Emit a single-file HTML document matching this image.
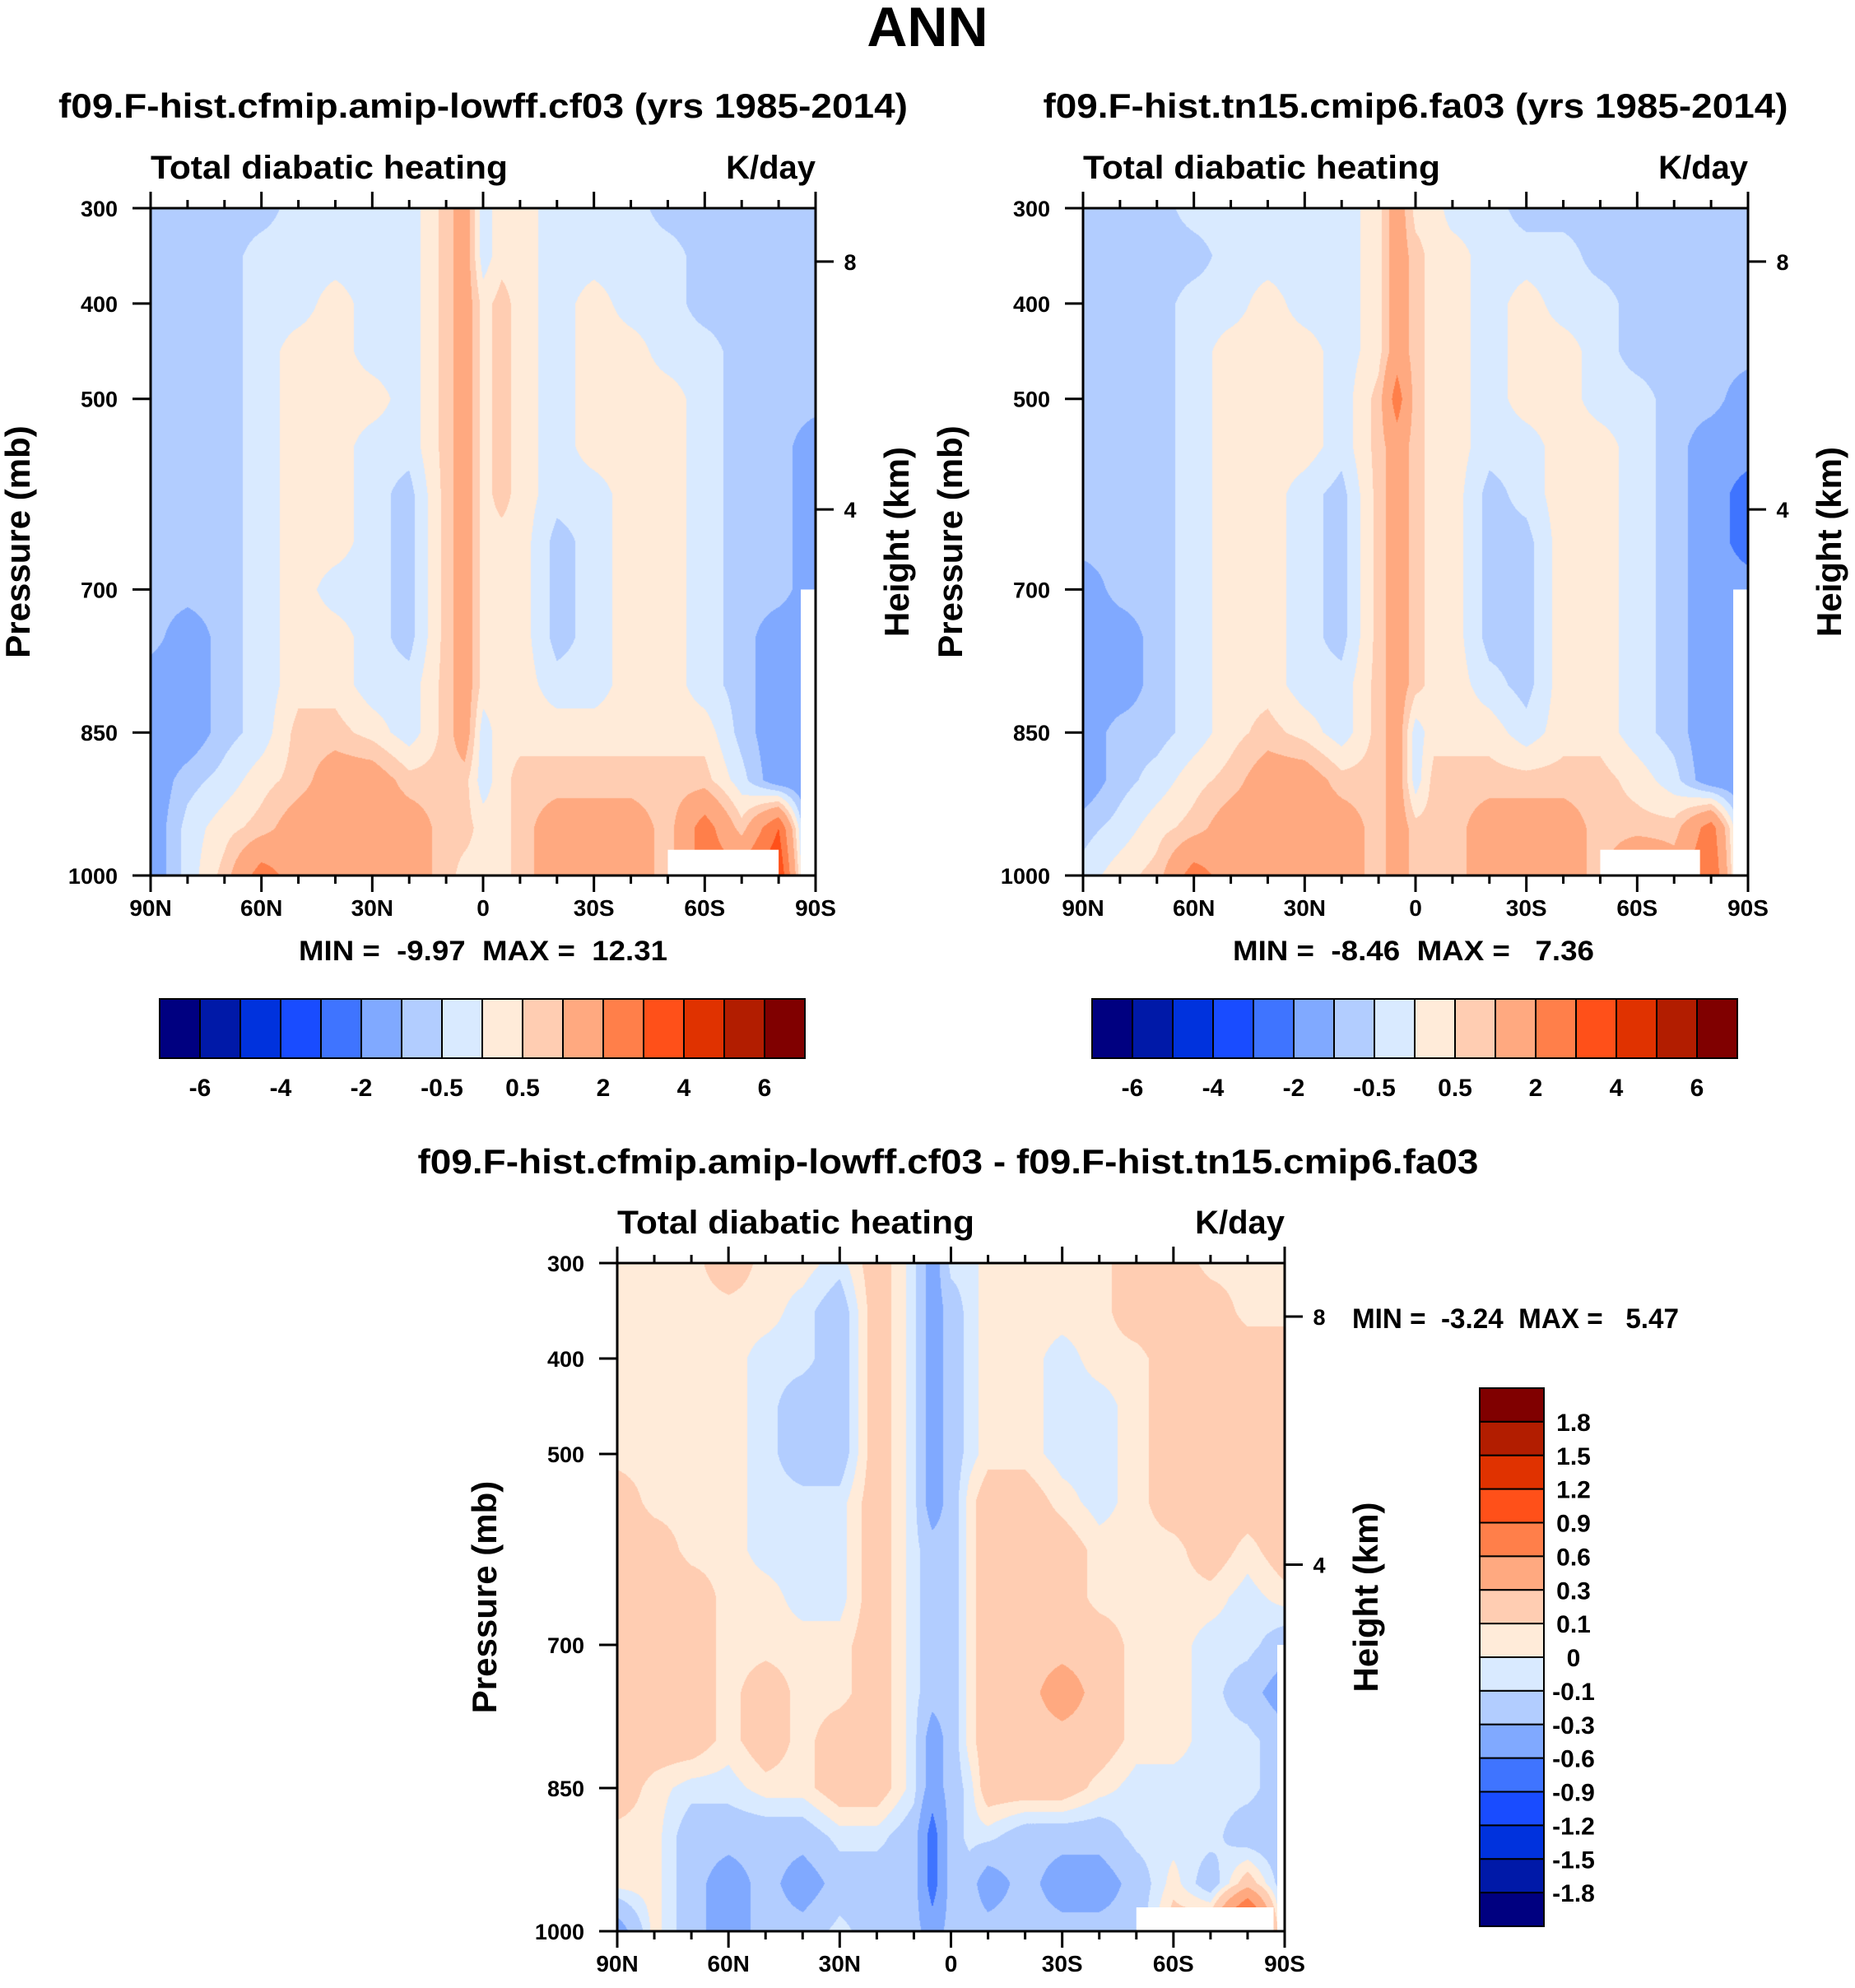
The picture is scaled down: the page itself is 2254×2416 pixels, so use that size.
<!DOCTYPE html>
<html><head><meta charset="utf-8">
<style>
html,body{margin:0;padding:0;background:#fff;}
#wrap{position:relative;width:2254px;height:2416px;overflow:hidden;}
canvas{position:absolute;}
svg{position:absolute;left:0;top:0;}
text{font-family:"Liberation Sans",Arial,sans-serif;font-weight:bold;fill:#000;}
</style></head>
<body>
<div id="wrap">
<canvas id="c1"></canvas>
<canvas id="c2"></canvas>
<canvas id="c3"></canvas>
<svg id="s" width="2254" height="2416" xmlns="http://www.w3.org/2000/svg">
<text x="1127" y="56" font-size="68" text-anchor="middle">ANN</text>
</svg>
</div>
<script>
const lats=[90,80,70,60,50,40,30,20,10,5,0,-5,-10,-20,-30,-40,-50,-60,-70,-80,-90];
const plevs=[300,350,400,450,500,550,600,650,700,750,800,850,900,950,1000];
const levelsAbs=[-6,-5,-4,-3,-2,-1,-0.5,0,0.5,1,2,3,4,5,6];
const levelsDiff=[-1.8,-1.5,-1.2,-0.9,-0.6,-0.3,-0.1,0,0.1,0.3,0.6,0.9,1.2,1.5,1.8];
const labelsAbs=["-6","-4","-2","-0.5","0.5","2","4","6"];
const labelsDiff=["1.8","1.5","1.2","0.9","0.6","0.3","0.1","0","-0.1","-0.3","-0.6","-0.9","-1.2","-1.5","-1.8"];
const colors=['#000080','#0019a8','#0032dd','#194cff','#3f74ff','#80a9ff','#b2cdff','#d9eaff','#ffebd9','#ffcdb2','#ffa980','#ff7f4a','#ff5019','#e03200','#b21d00','#800000'];
const latTicks=["90N","60N","30N","0","30S","60S","90S"];
const pTicks=[300,400,500,700,850,1000];
const hTicks=[8,4];
const hTickP=[356,616];
const fieldA=[
[-.7,-.7,-.7,-.7,-.3,-.3,-.3,-.3,.7,1.5,-.3,.3,.3,-.3,-.3,-.3,-.7,-.7,-.7,-.7,-.7],
[-.7,-.7,-.7,-.3,-.3,-.3,-.3,-.3,.7,1.5,-.3,.3,.3,-.3,-.3,-.3,-.3,-.7,-.7,-.7,-.7],
[-.7,-.7,-.7,-.3,-.3,.3,-.3,-.3,.7,1.5,.3,.7,.3,-.3,.3,-.3,-.3,-.7,-.7,-.7,-.7],
[-.7,-.7,-.7,-.3,.3,.3,-.3,-.3,.7,1.5,.3,.7,.3,-.3,.3,.3,-.3,-.3,-.7,-.7,-.7],
[-.7,-.7,-.7,-.3,.3,.3,.3,-.3,.7,1.5,.3,.7,.3,-.3,.3,.3,.3,-.3,-.7,-.7,-.7],
[-.7,-.7,-.7,-.3,.3,.3,-.3,-.3,.7,1.5,.3,.7,.3,-.3,.3,.3,.3,-.3,-.7,-.7,-1.5],
[-.7,-.7,-.7,-.3,.3,.3,-.3,-.7,.7,1.5,.3,.7,.3,-.3,-.3,.3,.3,-.3,-.7,-.7,-1.5],
[-.7,-.7,-.7,-.3,.3,.3,-.3,-.7,.7,1.5,.3,.3,.3,-.7,-.3,.3,.3,-.3,-.7,-.7,-1.5],
[-.7,-.7,-.7,-.3,.3,-.3,-.3,-.7,.7,1.5,.3,.3,.3,-.7,-.3,.3,.3,-.3,-.7,-.7,-1.5],
[-.7,-1.5,-.7,-.3,.3,.3,-.3,-.7,.7,1.5,.3,.3,.3,-.7,-.3,.3,.3,-.3,-.7,-1.5,-1.5],
[-1.5,-1.5,-.7,-.3,.3,.3,-.3,-.3,.7,1.5,.3,.3,.3,-.3,-.3,.3,.3,-.3,-.7,-1.5,-1.5],
[-1.5,-1.5,-.7,-.3,.7,.7,.3,-.3,.7,1.5,-.3,.3,.3,.3,.3,.3,.3,.3,-.7,-1.5,-1.5],
[-1.5,-.7,-.3,.3,.7,1.5,1.5,.7,.7,.7,-.3,.3,.7,.7,.7,.7,.7,.7,-.3,-1.5,-1.5],
[-1.5,-.3,.3,.7,1.5,1.5,1.5,1.5,.7,.7,.3,.3,.7,1.5,1.5,1.5,.7,2.5,.7,3,-2.5],
[-1.5,-.3,.7,2.5,1.5,1.5,1.5,1.5,.7,.3,.3,.3,.7,1.5,1.5,1.5,.7,2.5,2.5,4,-2.5]];
const fieldB=[
[-.7,-.7,-.7,-.3,-.3,-.3,-.3,-.3,.3,1.5,.3,.3,-.3,-.3,-.7,-.7,-.7,-.7,-.7,-.7,-.7],
[-.7,-.7,-.7,-.7,-.3,-.3,-.3,-.3,.3,1.5,.7,.3,.3,-.3,-.3,-.3,-.7,-.7,-.7,-.7,-.7],
[-.7,-.7,-.7,-.3,-.3,.3,-.3,-.3,.3,1.5,.7,.3,.3,-.3,.3,-.3,-.3,-.7,-.7,-.7,-.7],
[-.7,-.7,-.7,-.3,.3,.3,.3,-.3,.3,1.5,.7,.3,.3,-.3,.3,.3,-.3,-.7,-.7,-.7,-.7],
[-.7,-.7,-.7,-.3,.3,.3,.3,-.3,.7,2.5,.7,.3,.3,-.3,.3,.3,-.3,-.3,-.7,-.7,-1.5],
[-.7,-.7,-.7,-.3,.3,.3,.3,-.3,.7,1.5,.7,.3,.3,-.3,-.3,.3,.3,-.3,-.7,-1.5,-1.5],
[-.7,-.7,-.7,-.3,.3,.3,-.3,-.7,.7,1.5,.7,.3,.3,-.7,-.3,.3,.3,-.3,-.7,-1.5,-2.5],
[-.7,-.7,-.7,-.3,.3,.3,-.3,-.7,.7,1.5,.7,.3,.3,-.7,-.7,.3,.3,-.3,-.7,-1.5,-2.5],
[-1.5,-.7,-.7,-.3,.3,.3,-.3,-.7,.7,1.5,.7,.3,.3,-.7,-.7,.3,.3,-.3,-.7,-1.5,-1.5],
[-1.5,-1.5,-.7,-.3,.3,.3,-.3,-.7,.7,1.5,.7,.3,.3,-.7,-.7,.3,.3,-.3,-.7,-1.5,-1.5],
[-1.5,-1.5,-.7,-.3,.3,.3,-.3,-.3,.7,1.5,.7,.3,.3,-.3,-.7,.3,.3,-.3,-.7,-1.5,-1.5],
[-1.5,-.7,-.7,-.3,.3,.7,.3,-.3,.7,1.5,-.3,.3,.3,.3,-.3,.3,.3,-.3,-.7,-1.5,-1.5],
[-1.5,-.7,-.3,.3,.7,1.5,1.5,.7,.7,1.5,-.3,.7,.7,.7,.7,.7,.7,.3,-.3,-1.5,-1.5],
[-.7,-.3,.3,.7,1.5,1.5,1.5,1.5,.7,1.5,.7,.7,.7,1.5,1.5,1.5,.7,.7,.7,2.5,-1.5],
[-.3,.3,.7,2.5,1.5,1.5,1.5,1.5,.7,1.5,.7,.7,.7,1.5,1.5,1.5,.7,2.5,1.5,3,-1.5]];
const fieldD=[
[.05,.05,.05,.2,.05,.05,-.05,.2,-.05,-.45,-.05,-.05,.05,.05,.05,.05,.2,.2,.05,.05,.05],
[.05,.05,.05,.05,.05,-.05,-.2,.2,-.05,-.45,-.2,-.05,.05,.05,.05,.05,.2,.2,.2,.05,.05],
[.05,.05,.05,.05,-.05,-.05,-.2,.2,-.05,-.45,-.2,-.05,.05,.05,-.05,.05,.05,.2,.2,.2,.2],
[.05,.05,.05,.05,-.05,-.2,-.2,.2,-.05,-.45,-.2,-.05,.05,.05,-.05,-.05,.05,.2,.2,.2,.2],
[.05,.05,.05,.05,-.05,-.2,-.2,.2,-.05,-.45,-.2,-.05,.05,.05,-.05,-.05,.05,.2,.2,.2,.2],
[.2,.05,.05,.05,-.05,-.05,-.05,.2,-.05,-.45,-.2,.05,.2,.2,.05,-.05,.05,.2,.2,.2,.2],
[.2,.2,.05,.05,-.05,-.05,-.05,.2,-.05,-.2,-.2,.05,.2,.2,.2,.05,.05,.05,.2,.05,.2],
[.2,.2,.2,.05,.05,-.05,-.05,.2,-.05,-.2,-.2,.05,.2,.2,.2,.05,.05,.05,.05,-.05,.05],
[.2,.2,.2,.05,.05,.05,.05,.2,-.05,-.2,-.2,.05,.2,.2,.2,.2,.05,.05,-.05,-.05,-.2],
[.2,.2,.2,.05,.2,.05,.05,.2,-.05,-.2,-.2,.05,.2,.2,.45,.2,.05,.05,-.05,-.2,-.45],
[.2,.2,.2,.05,.2,.05,.2,.2,-.05,-.45,-.2,.05,.2,.2,.2,.2,.05,.05,-.05,-.05,-.2],
[.2,.05,-.05,-.05,.05,.05,.2,.2,-.05,-.45,-.2,-.05,.2,.2,.2,.05,-.05,-.05,-.05,-.05,-.2],
[.05,.05,-.2,-.2,-.2,-.2,-.05,-.05,-.2,-.75,-.2,-.05,-.05,-.2,-.2,-.2,-.05,-.05,-.05,-.2,-.2],
[.05,.05,-.2,-.45,-.2,-.45,-.2,-.2,-.2,-.75,-.2,-.2,-.45,-.2,-.45,-.45,-.2,.05,-.2,.2,-.2],
[-.45,.05,-.2,-.45,-.2,-.2,-.05,-.2,-.2,-.45,-.2,-.2,-.2,-.2,-.2,-.2,-.2,.2,.3,1.5,-.2]];

const NS="http://www.w3.org/2000/svg";
const svg=document.getElementById('s');
function mk(tag,attrs,txt){const e=document.createElementNS(NS,tag);for(const k in attrs)e.setAttribute(k,attrs[k]);if(txt!==undefined)e.textContent=txt;svg.appendChild(e);return e;}
function hex(c){return [parseInt(c.substr(1,2),16),parseInt(c.substr(3,2),16),parseInt(c.substr(5,2),16)];}

function panel(cfg){
  const L=cfg.x,T=cfg.y,W=cfg.w,H=cfg.h;
  const xOf=lat=>L+(90-lat)/180*W;
  const yOf=p=>T+(p-300)/700*H;
  const cv=document.getElementById(cfg.canvas);
  cv.width=W;cv.height=H;cv.style.left=L+'px';cv.style.top=T+'px';
  const ctx=cv.getContext('2d');const img=ctx.createImageData(W,H);
  const rgb=colors.map(hex);
  for(let py=0;py<H;py++){
    const p=300+(py+0.5)/H*700;
    let j=Math.min(plevs.length-2,Math.floor((p-300)/50));const fy=(p-plevs[j])/(plevs[j+1]-plevs[j]);
    for(let px=0;px<W;px++){
      const lat=90-(px+0.5)/W*180;
      let i=0;while(i<lats.length-2&&lat<lats[i+1])i++;
      const fx=(lats[i]-lat)/(lats[i]-lats[i+1]);
      const f=cfg.field;
      const v=(f[j][i]*(1-fx)+f[j][i+1]*fx)*(1-fy)+(f[j+1][i]*(1-fx)+f[j+1][i+1]*fx)*fy;
      let k=0;while(k<cfg.levels.length&&v>=cfg.levels[k])k++;
      const c=rgb[k];const o=(py*W+px)*4;
      img.data[o]=c[0];img.data[o+1]=c[1];img.data[o+2]=c[2];img.data[o+3]=255;
    }
  }
  ctx.putImageData(img,0,0);
  for(const m of cfg.masks){
    const r=mk('rect',{x:xOf(m[0]),y:yOf(m[2]),width:xOf(m[1])-xOf(m[0]),height:yOf(1000)-yOf(m[2]),fill:'#fff'});
    
    
  }
  const fr=mk('rect',{x:L,y:T,width:W,height:H,fill:'none',stroke:'#000','stroke-width':3});
  
  
  for(let lat=90;lat>=-90;lat-=10){
    const x=xOf(lat);const major=(lat%30===0);const len=major?20:10;
    const t1=mk('line',{x1:x,y1:T,x2:x,y2:T-len,stroke:'#000','stroke-width':3});
    
    
    const t2=mk('line',{x1:x,y1:T+H,x2:x,y2:T+H+len,stroke:'#000','stroke-width':3});
    
    
  }
  latTicks.forEach((lb,i)=>{
    const t=mk('text',{x:xOf(90-i*30),y:T+H+49,'font-size':28,'text-anchor':'middle'},lb);
    
    
  });
  pTicks.forEach(p=>{
    const l=mk('line',{x1:L,y1:yOf(p),x2:L-22,y2:yOf(p),stroke:'#000','stroke-width':3});
    
    
    const t=mk('text',{x:L-40,y:yOf(p)+10,'font-size':27,'text-anchor':'end'},String(p));
    
    
  });
  hTicks.forEach((h,i)=>{
    const y=yOf(hTickP[i]);
    const l=mk('line',{x1:L+W,y1:y,x2:L+W+22,y2:y,stroke:'#000','stroke-width':3});
    
    
    const t=mk('text',{x:L+W+42,y:y+10,'font-size':27,'text-anchor':'middle'},String(h));
    
    
  });
  const a=mk('text',{x:L,y:T-36,'font-size':40,textLength:434,lengthAdjust:'spacingAndGlyphs'},'Total diabatic heating');
  
  
  const u=mk('text',{x:L+W,y:T-36,'font-size':40,'text-anchor':'end'},'K/day');
  
  
  const yl=mk('text',{x:0,y:0,'font-size':42,'text-anchor':'middle',transform:`translate(${L-147},${T+H*0.5}) rotate(-90)`},'Pressure (mb)');
  
  
  const hl=mk('text',{x:0,y:0,'font-size':42,'text-anchor':'middle',transform:`translate(${L+W+113},${T+H*0.5}) rotate(-90)`},'Height (km)');
  
  
  const tt=mk('text',{x:cfg.titleX,y:cfg.titleY,'font-size':42,'text-anchor':'middle',textLength:cfg.titleW,lengthAdjust:'spacingAndGlyphs'},cfg.title);
  
  
  const mm=mk('text',{x:cfg.mmX,y:cfg.mmY,'font-size':34,style:'white-space:pre',textLength:cfg.mmW,lengthAdjust:'spacingAndGlyphs'},cfg.minmax);
  
  
}

function hbar(x,y,w,h){
  const bw=w/16;
  colors.forEach((c,i)=>{
    const r=mk('rect',{x:x+i*bw,y:y,width:bw,height:h,fill:c,stroke:'#000','stroke-width':2});
    
    
  });
  labelsAbs.forEach((lb,i)=>{
    const t=mk('text',{x:x+(1+2*i)*bw,y:y+h+46,'font-size':30,'text-anchor':'middle'},lb);
    
    
  });
}
function vbar(x,y,w,h){
  const bh=h/16;
  colors.slice().reverse().forEach((c,i)=>{
    const r=mk('rect',{x:x,y:y+i*bh,width:w,height:bh,fill:c,stroke:'#000','stroke-width':2});
    
    
  });
  labelsDiff.forEach((lb,i)=>{
    const t=mk('text',{x:x+w+36,y:y+(i+1)*bh+11,'font-size':30,'text-anchor':'middle'},lb);
    
    
  });
}

panel({id:'panel1',canvas:'c1',x:183,y:253,w:808,h:811,field:fieldA,levels:levelsAbs,
  masks:[[-50,-80,973],[-86,-90,700]],
  title:'f09.F-hist.cfmip.amip-lowff.cf03 (yrs 1985-2014)',titleX:587,titleY:143,titleW:1032,
  minmax:'MIN =  -9.97  MAX =  12.31',mmX:363,mmY:1167,mmW:448});
panel({id:'panel2',canvas:'c2',x:1316,y:253,w:808,h:811,field:fieldB,levels:levelsAbs,
  masks:[[-50,-77,973],[-86,-90,700]],
  title:'f09.F-hist.tn15.cmip6.fa03 (yrs 1985-2014)',titleX:1720,titleY:143,titleW:905,
  minmax:'MIN =  -8.46  MAX =   7.36',mmX:1498,mmY:1167,mmW:439});
panel({id:'diff',canvas:'c3',x:750,y:1535,w:811,h:812,field:fieldD,levels:levelsDiff,
  masks:[[-50,-87,975],[-88,-90,700]],
  title:'f09.F-hist.cfmip.amip-lowff.cf03 - f09.F-hist.tn15.cmip6.fa03',titleX:1152,titleY:1426,titleW:1289,
  minmax:'MIN =  -3.24  MAX =   5.47',mmX:1643,mmY:1614,mmW:397});
hbar(194,1214,784,72);
hbar(1327,1214,784,72);
vbar(1798,1687,78,654);
</script>
</body></html>
